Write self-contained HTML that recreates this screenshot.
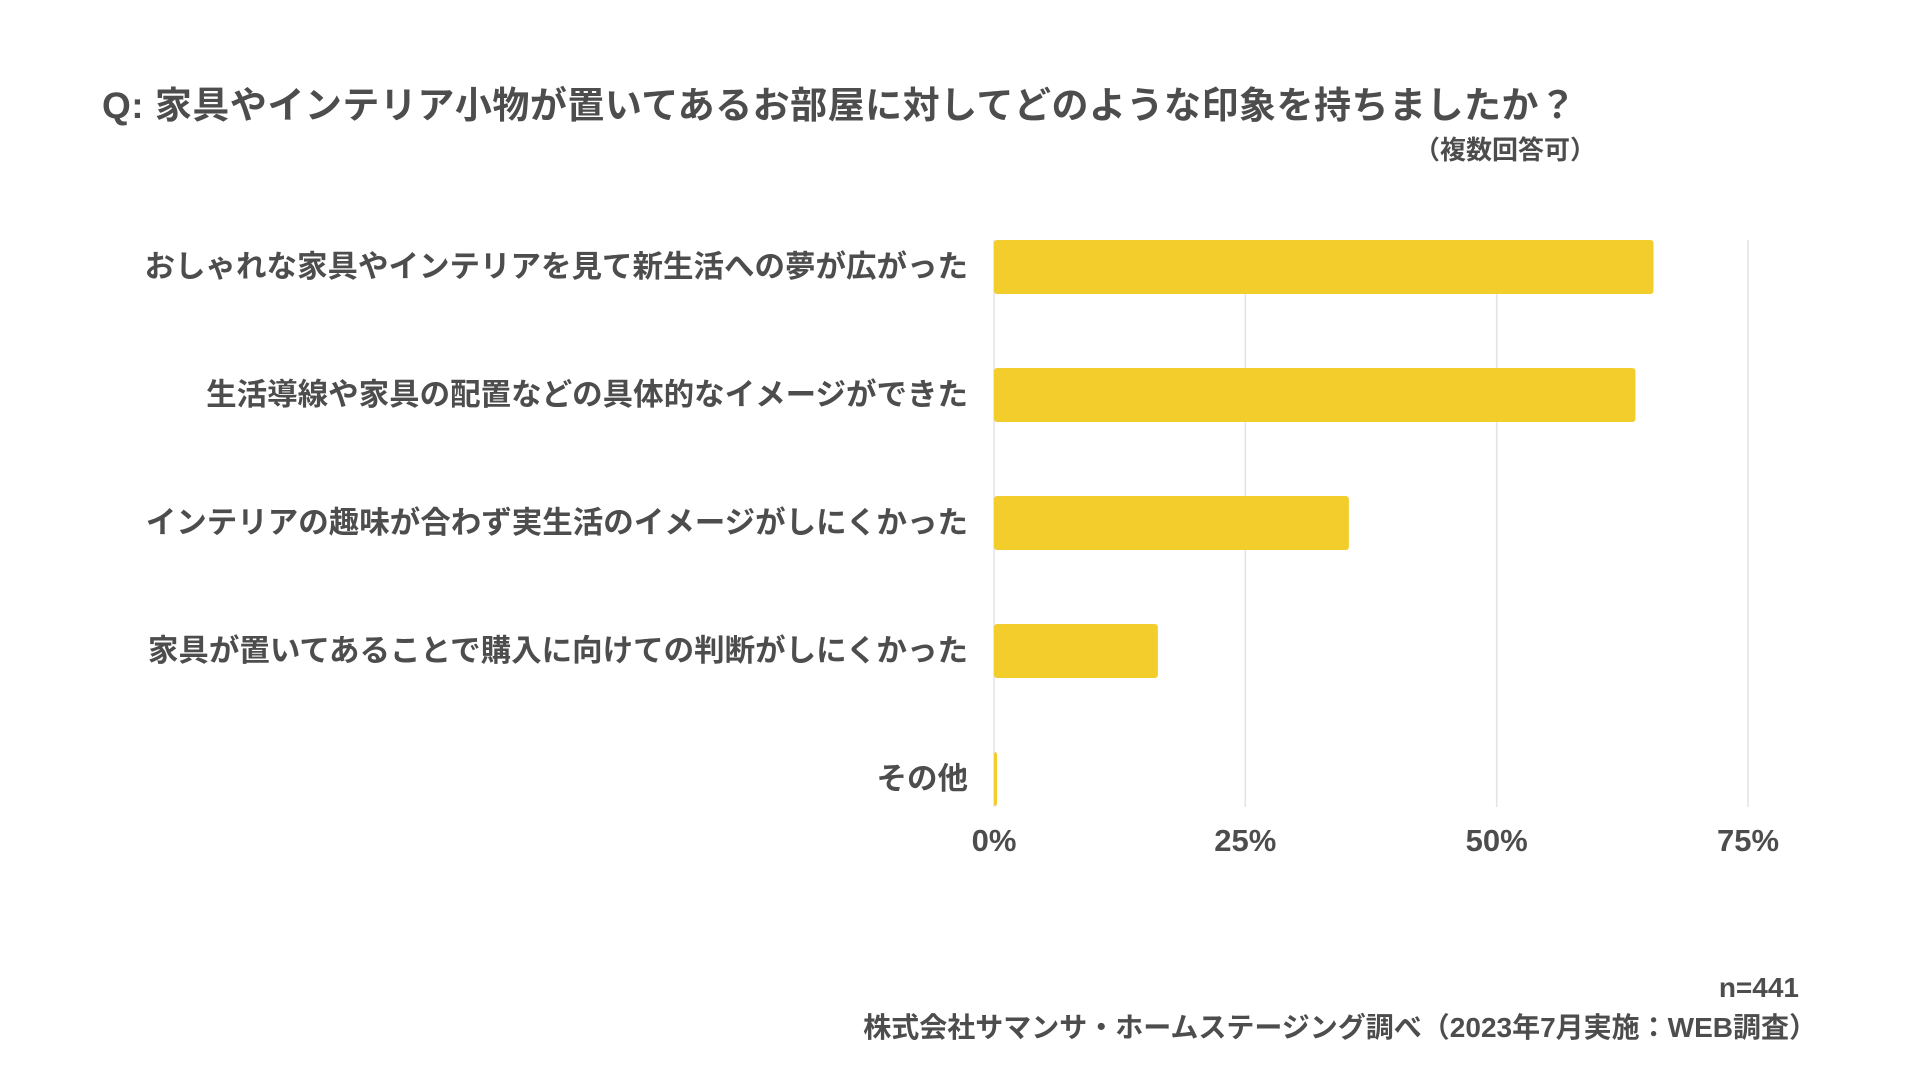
<!DOCTYPE html>
<html><head><meta charset="utf-8"><style>
body{margin:0;width:1920px;height:1080px;background:#fff;overflow:hidden;font-family:"Liberation Sans","Noto Sans CJK JP",sans-serif;color:#4d4d4d;}
.t{position:absolute;white-space:nowrap;font-weight:bold;}
</style></head><body>
<div class="t" style="left:102px;top:75px;font-size:37px;letter-spacing:0.5px;">Q: 家具やインテリア小物が置いてあるお部屋に対してどのような印象を持ちましたか？</div>
<div class="t" style="right:324px;top:130px;font-size:26px;">（複数回答可）</div>
<svg id="chart" width="1920" height="1080" style="position:absolute;left:0;top:0"></svg>
<div class="t" style="right:121px;top:972px;font-size:28px;">n=441</div>
<div class="t" style="right:103px;top:1006px;font-size:28px;">株式会社サマンサ・ホームステージング調べ（2023年7月実施：WEB調査）</div>
<script>
const categories=["おしゃれな家具やインテリアを見て新生活への夢が広がった","生活導線や家具の配置などの具体的なイメージができた","インテリアの趣味が合わず実生活のイメージがしにくかった","家具が置いてあることで購入に向けての判断がしにくかった","その他"];
const values=[65.6,63.8,35.3,16.3,0.3];
const ticks=[0,25,50,75];
const tickLabels=["0%","25%","50%","75%"];
const NS="http://www.w3.org/2000/svg";
const svg=document.getElementById('chart');
const x0=994,pxPer=754/75,top0=240,pitch=128,bh=54,gridBottom=807;
const xs=v=>x0+v*pxPer;
function mk(t,a){const e=document.createElementNS(NS,t);for(const k in a)e.setAttribute(k,a[k]);svg.appendChild(e);return e;}
ticks.forEach((t,i)=>{
 const g=mk('line',{x1:xs(t),x2:xs(t),y1:top0,y2:gridBottom,stroke:'#e3e3e3','stroke-width':1.5});
 
 
 const l=mk('text',{x:xs(t),y:851,'text-anchor':'middle','font-size':31,'font-weight':'bold',fill:'#4d4d4d','font-family':'Liberation Sans, Noto Sans CJK JP, sans-serif'});
 l.textContent=tickLabels[i];
 
 
});
categories.forEach((c,i)=>{
 const y=top0+i*pitch;
 const r=mk('rect',{x:x0,y:y,width:Math.max(2,xs(values[i])-x0),height:bh,rx:3,fill:'#f2cd2c'});
 
 
 const l=mk('text',{x:968,y:y+bh/2+10,'text-anchor':'end','font-size':30.5,'font-weight':'bold',fill:'#4d4d4d','font-family':'Liberation Sans, Noto Sans CJK JP, sans-serif'});
 l.textContent=c;
 
 
});
</script>
</body></html>
